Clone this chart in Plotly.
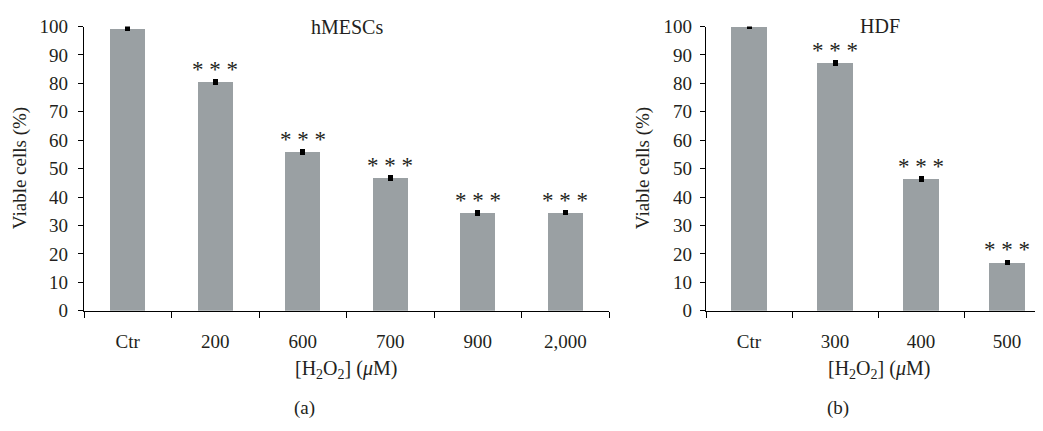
import plotly.graph_objects as go

# ---- data ----
cats_a = ["Ctr", "200", "600", "700", "900", "2,000"]
vals_a = [99.4, 80.6, 55.9, 46.7, 34.4, 34.5]
err_a = [0.3, 0.5, 0.5, 0.5, 0.4, 0.4]
sig_a = ["", "* * *", "* * *", "* * *", "* * *", "* * *"]

cats_b = ["Ctr", "300", "400", "500"]
vals_b = [100.0, 87.3, 46.4, 17.0]
err_b = [0.5, 0.5, 0.6, 0.4]
sig_b = ["", "* * *", "* * *", "* * *"]

y_ticks = [0, 10, 20, 30, 40, 50, 60, 70, 80, 90, 100]

# page body adds an 8px margin; size the figure to fit the 1043x431 window
OFF = 8
W, H = 1043 - OFF, 431 - OFF
FONT = "Liberation Serif"
TXT = "#231f20"
BAR = "#9aa0a3"


def fx(px):  # screen x pixel -> paper fraction
    return (px - OFF) / W


def fy(py):  # screen y pixel -> paper fraction
    return 1 - (py - OFF) / H


fig = go.Figure()
fig.add_trace(go.Bar(
    x=cats_a, y=vals_a, width=0.4, marker=dict(color=BAR, line=dict(width=0)),
    error_y=dict(type="data", array=err_a, color="black", thickness=3, width=2.5),
    xaxis="x", yaxis="y", showlegend=False, cliponaxis=False))
fig.add_trace(go.Bar(
    x=cats_b, y=vals_b, width=0.41, marker=dict(color=BAR, line=dict(width=0)),
    error_y=dict(type="data", array=err_b, color="black", thickness=3, width=2.5),
    xaxis="x2", yaxis="y2", showlegend=False, cliponaxis=False))

ydom = [fy(316), fy(17)]
xdom_a = [fx(84), fx(609)]
xdom_b = [fx(706), 1.0]
b_span = (1043 - 706) / 86.0

common_x = dict(type="category", tickson="boundaries", ticks="outside", ticklen=6,
                tickwidth=1.2, tickcolor="black", showline=True, linecolor="black",
                linewidth=1.3, showgrid=False, zeroline=False,
                tickfont=dict(family=FONT, size=19, color=TXT), ticklabelstandoff=13)
common_y = dict(range=[0, 100], tickvals=y_ticks, ticks="outside", ticklen=5,
                tickwidth=1.2, tickcolor="black", showline=True, linecolor="black",
                linewidth=1.3, showgrid=False, zeroline=False, ticklabeloverflow="allow",
                tickfont=dict(family=FONT, size=19, color=TXT))

fig.update_layout(
    width=W, height=H, margin=dict(l=0, r=0, t=0, b=0),
    paper_bgcolor="white", plot_bgcolor="white", bargap=0,
    xaxis=dict(domain=xdom_a, anchor="y", range=[-0.5, 5.5], **common_x),
    yaxis=dict(domain=ydom, anchor="x", ticklabelstandoff=6, **common_y),
    xaxis2=dict(domain=xdom_b, anchor="y2", range=[-0.5, -0.5 + b_span], **common_x),
    yaxis2=dict(domain=ydom, anchor="x2", ticklabelstandoff=4, **common_y),
)

ann = []
for i, (v, s) in enumerate(zip(vals_a, sig_a)):
    if s:
        ann.append(dict(x=i, y=v, xref="x", yref="y", text=s, showarrow=False,
                        yanchor="bottom", yshift=-2, font=dict(family=FONT, size=23, color=TXT)))
for i, (v, s) in enumerate(zip(vals_b, sig_b)):
    if s:
        ann.append(dict(x=i, y=v, xref="x2", yref="y2", text=s, showarrow=False,
                        yanchor="bottom", yshift=-2, font=dict(family=FONT, size=23, color=TXT)))


def pa(xpx, ypx, text, size=20, angle=0):
    return dict(x=fx(xpx), y=fy(ypx), xref="paper", yref="paper", text=text,
                showarrow=False, xanchor="center", yanchor="middle", textangle=angle,
                font=dict(family=FONT, size=size, color=TXT))


xt = "[H<sub>2</sub>O<sub>2</sub>] (<i>μ</i>M)"
ann += [
    pa(347, 17, "hMESCs"),
    pa(880, 16, "HDF"),
    pa(20, 166, "Viable cells (%)", size=19, angle=-90),
    pa(643, 166, "Viable cells (%)", size=19, angle=-90),
    pa(346, 378, xt),
    pa(879, 378, xt),
    pa(304, 418, "(a)", size=19),
    pa(838, 418, "(b)", size=19),
]
fig.update_layout(annotations=ann)

fig.write_html("out.html")
